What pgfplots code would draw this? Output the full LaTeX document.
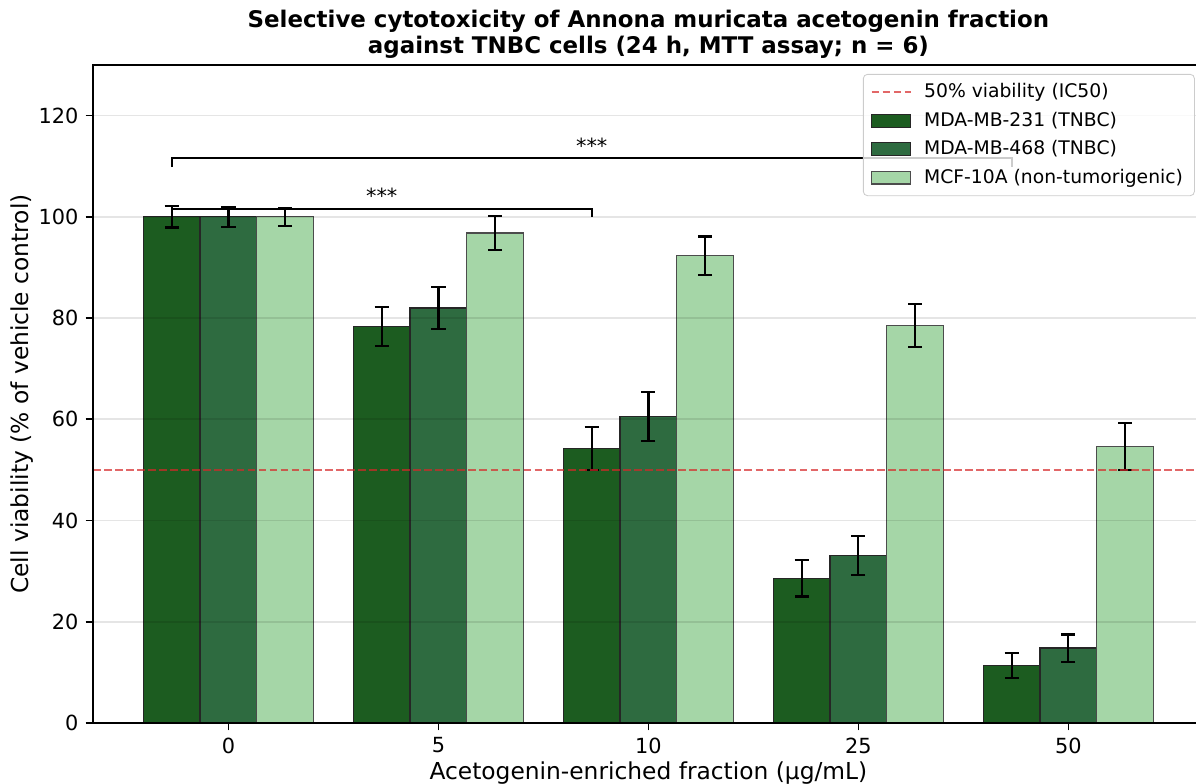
\documentclass[border=0pt]{standalone}
\usepackage{fontspec}
\setmainfont{DejaVu Sans}
\usepackage{pgfplots}
\pgfplotsset{compat=1.18}
\definecolor{cA}{RGB}{28,92,32}
\definecolor{cB}{RGB}{46,107,64}
\definecolor{cC}{RGB}{165,214,167}
\definecolor{ic}{RGB}{214,39,40}
\pgfplotsset{
  barleg/.style={legend image code/.code={\draw[##1, sharp corners, fill opacity=1, draw opacity=1] (0pt,-3.1pt) rectangle (18.7pt,3.1pt);}},
  lineleg/.style={legend image code/.code={\draw[##1, sharp corners] (0pt,0pt) -- (18.7pt,0pt);}},
  errstyle/.style={error bars/.cd, y dir=both, y explicit,
    error bar style={line width=1.05pt, black, draw opacity=1},
    error mark options={rotate=90, line width=1.05pt, mark size=3.4pt, black}},
}
\begin{document}
\begin{tikzpicture}
\begin{axis}[
  at={(0,0)}, anchor=south west,
  scale only axis, width=533.2pt, height=315.84pt,
  xmin=-0.645, xmax=4.645, ymin=0, ymax=130,
  xtick={0,1,2,3,4}, xticklabels={0,5,10,25,50},
  ytick={0,20,40,60,80,100,120},
  tick align=outside, xtick pos=bottom, ytick pos=left,
  major tick length=3.5pt,
  ymajorgrids, major grid style={black, opacity=0.1, line width=0.8pt},
  axis line style={line width=0.8pt},
  tick style={line width=0.8pt, black},
  ticklabel style={font=\fontsize{10}{12}\selectfont},
  /pgf/number format/assume math mode=true,
  axis on top,
  title={Selective cytotoxicity of Annona muricata acetogenin fraction\\against TNBC cells (24 h, MTT assay; n = 6)},
  title style={at={(axis description cs:0.5,1.0274)}, anchor=center, align=center, font=\bfseries\fontsize{11}{12.2}\selectfont},
  xlabel={Acetogenin-enriched fraction (µg/mL)},
  ylabel={Cell viability (\% of vehicle control)},
  xlabel style={at={(axis description cs:0.5,-0.076)}, anchor=center, font=\fontsize{11.2}{13}\selectfont},
  ylabel style={at={(axis description cs:-0.0639,0.5)}, anchor=center, rotate=0, font=\fontsize{11.2}{13}\selectfont},
  legend style={at={(1,1)}, anchor=north east, xshift=-4.3pt, yshift=-4.3pt,
    draw=black!20, fill=white, fill opacity=0.8, text opacity=1, draw opacity=1,
    rounded corners=2pt, font=\fontsize{9}{10.5}\selectfont,
    row sep=1.3pt, column sep=4pt, inner xsep=3.5pt, inner ysep=2.5pt},
  legend cell align=left,
]
\addlegendimage{ic, draw opacity=0.7, dash pattern=on 3.7pt off 1.6pt, line width=1pt, lineleg}
\addlegendentry{50\% viability (IC50)}

\addplot[ybar, bar width=0.27, bar shift=0, fill=cA, draw=black!85, line width=0.6pt, barleg, errstyle]
coordinates {(-0.27,100) +- (0,2.1) (0.73,78.4) +- (0,3.85) (1.73,54.2) +- (0,4.25) (2.73,28.6) +- (0,3.6) (3.73,11.4) +- (0,2.45)};
\addlegendentry{MDA-MB-231 (TNBC)}

\addplot[ybar, bar width=0.27, bar shift=0, fill=cB, draw=black!85, line width=0.6pt, barleg, errstyle]
coordinates {(0,100) +- (0,2.0) (1,82.0) +- (0,4.2) (2,60.5) +- (0,4.85) (3,33.1) +- (0,3.9) (4,14.8) +- (0,2.7)};
\addlegendentry{MDA-MB-468 (TNBC)}

\addplot[ybar, bar width=0.27, bar shift=0, fill=cC, draw=black!70, line width=0.6pt, barleg, errstyle]
coordinates {(0.27,100) +- (0,1.8) (1.27,96.8) +- (0,3.3) (2.27,92.3) +- (0,3.8) (3.27,78.5) +- (0,4.2) (4.27,54.6) +- (0,4.6)};
\addlegendentry{MCF-10A (non-tumorigenic)}

\addplot[forget plot, ic, draw opacity=0.7, dash pattern=on 3.7pt off 1.6pt, line width=1pt] coordinates {(-0.645,50) (4.645,50)};

\addplot[forget plot, black, line width=0.8pt] coordinates {(-0.27,109.8) (-0.27,111.6) (3.73,111.6) (3.73,109.8)};
\addplot[forget plot, black, line width=0.8pt] coordinates {(-0.27,100) (-0.27,101.6) (1.73,101.6) (1.73,100)};
\node[anchor=base, font=\fontsize{10}{12}\selectfont] at (axis cs:1.73,112.5) {***};
\node[anchor=base, font=\fontsize{10}{12}\selectfont] at (axis cs:0.73,102.6) {***};
\end{axis}
\pgfresetboundingbox
\useasboundingbox (-44.64pt,-29.28pt) rectangle (529.44pt,347.04pt);
\end{tikzpicture}
\end{document}
